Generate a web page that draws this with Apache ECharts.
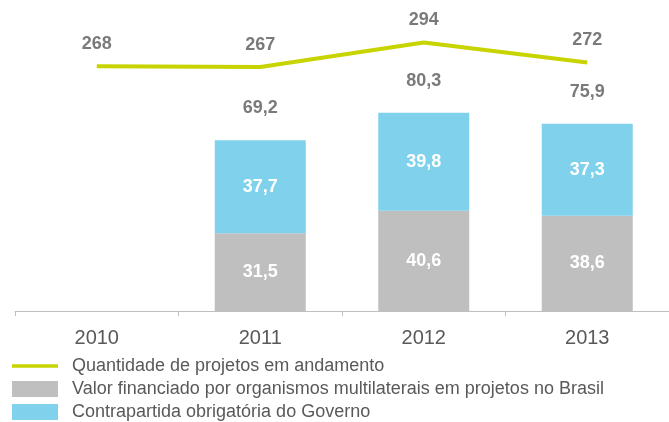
<!DOCTYPE html>
<html>
<head>
<meta charset="utf-8">
<script src="https://cdn.jsdelivr.net/npm/echarts@6/dist/echarts.min.js"></script>
<style>html,body{margin:0;padding:0;background:#fff}#c{width:669px;height:422px}</style>
</head>
<body>
<div id="c"></div>
<script>
var categories = ['2010', '2011', '2012', '2013'];
var projetos = [268, 267, 294, 272];
var valorFinanciado = [null, 31.5, 40.6, 38.6];
var contrapartida = [null, 37.7, 39.8, 37.3];
var totais = [null, 69.2, 80.3, 75.9];
var seriesNames = [
  'Quantidade de projetos em andamento',
  'Valor financiado por organismos multilaterais em projetos no Brasil',
  'Contrapartida obrigatória do Governo'
];

function fmt(v) { return v.toFixed(1).replace('.', ','); }

var FONT = '"Liberation Sans", Arial, sans-serif';
var LBL = { color: '#595959', fontWeight: 'bold', fontSize: 18, fontFamily: FONT };
var chart = echarts.init(document.getElementById('c'));
chart.setOption({
  animation: false,
  textStyle: { fontFamily: FONT },
  grid: { left: 15, width: 660, top: 15, bottom: 111, containLabel: false },
  legend: {
    orient: 'vertical', left: 12, top: 357, padding: 0,
    itemWidth: 46, itemHeight: 16, itemGap: 5,
    textStyle: { fontFamily: FONT, fontSize: 18, color: '#595959', padding: [0, 0, 0, 9] },
    data: [
      { name: seriesNames[0], icon: 'path://M0,0H46V3.5H0Z', itemStyle: { color: '#c8d400' } },
      { name: seriesNames[1], icon: 'rect' },
      { name: seriesNames[2], icon: 'rect' }
    ]
  },
  xAxis: {
    type: 'category', data: categories,
    axisLine: { lineStyle: { color: '#bfbfbf', width: 1 } },
    axisTick: { show: true, length: 5, lineStyle: { color: '#bfbfbf' } },
    axisLabel: { color: '#595959', fontSize: 20, margin: 17, fontFamily: FONT }
  },
  yAxis: [
    { type: 'value', min: 0, max: 120, show: false, splitLine: { show: false } },
    { type: 'value', min: 0, max: 324, show: false, splitLine: { show: false } }
  ],
  series: [
    {
      name: seriesNames[1], type: 'bar', stack: 'v', yAxisIndex: 0,
      data: valorFinanciado, barWidth: 91,
      itemStyle: { color: '#bfbfbf' },
      label: { show: true, position: 'inside', color: '#fff', fontWeight: 'bold', fontSize: 18, fontFamily: FONT,
        formatter: function (p) { return p.value == null ? '' : fmt(p.value); } }
    },
    {
      name: seriesNames[2], type: 'bar', stack: 'v', yAxisIndex: 0,
      data: contrapartida, barWidth: 91,
      itemStyle: { color: '#80d1ec' },
      label: { show: true, position: 'inside', color: '#fff', fontWeight: 'bold', fontSize: 18, fontFamily: FONT,
        formatter: function (p) { return p.value == null ? '' : fmt(p.value); } }
    },
    {
      name: 'totais', type: 'scatter', yAxisIndex: 0, data: totais,
      symbolSize: 0, silent: true,
      label: Object.assign({ show: true, position: 'top', distance: 23,
        formatter: function (p) { return p.value == null ? '' : fmt(p.value); } }, LBL)
    },
    {
      name: seriesNames[0], type: 'line', yAxisIndex: 1, data: projetos,
      symbol: 'none', showSymbol: false,
      lineStyle: { color: '#c8d400', width: 4 },
      itemStyle: { color: '#c8d400' }
    },
    {
      name: 'projetosLabels', type: 'scatter', yAxisIndex: 1, data: projetos,
      symbolSize: 0, silent: true,
      label: Object.assign({ show: true, position: 'top', distance: 13 }, LBL)
    }
  ]
});
</script>
</body>
</html>
